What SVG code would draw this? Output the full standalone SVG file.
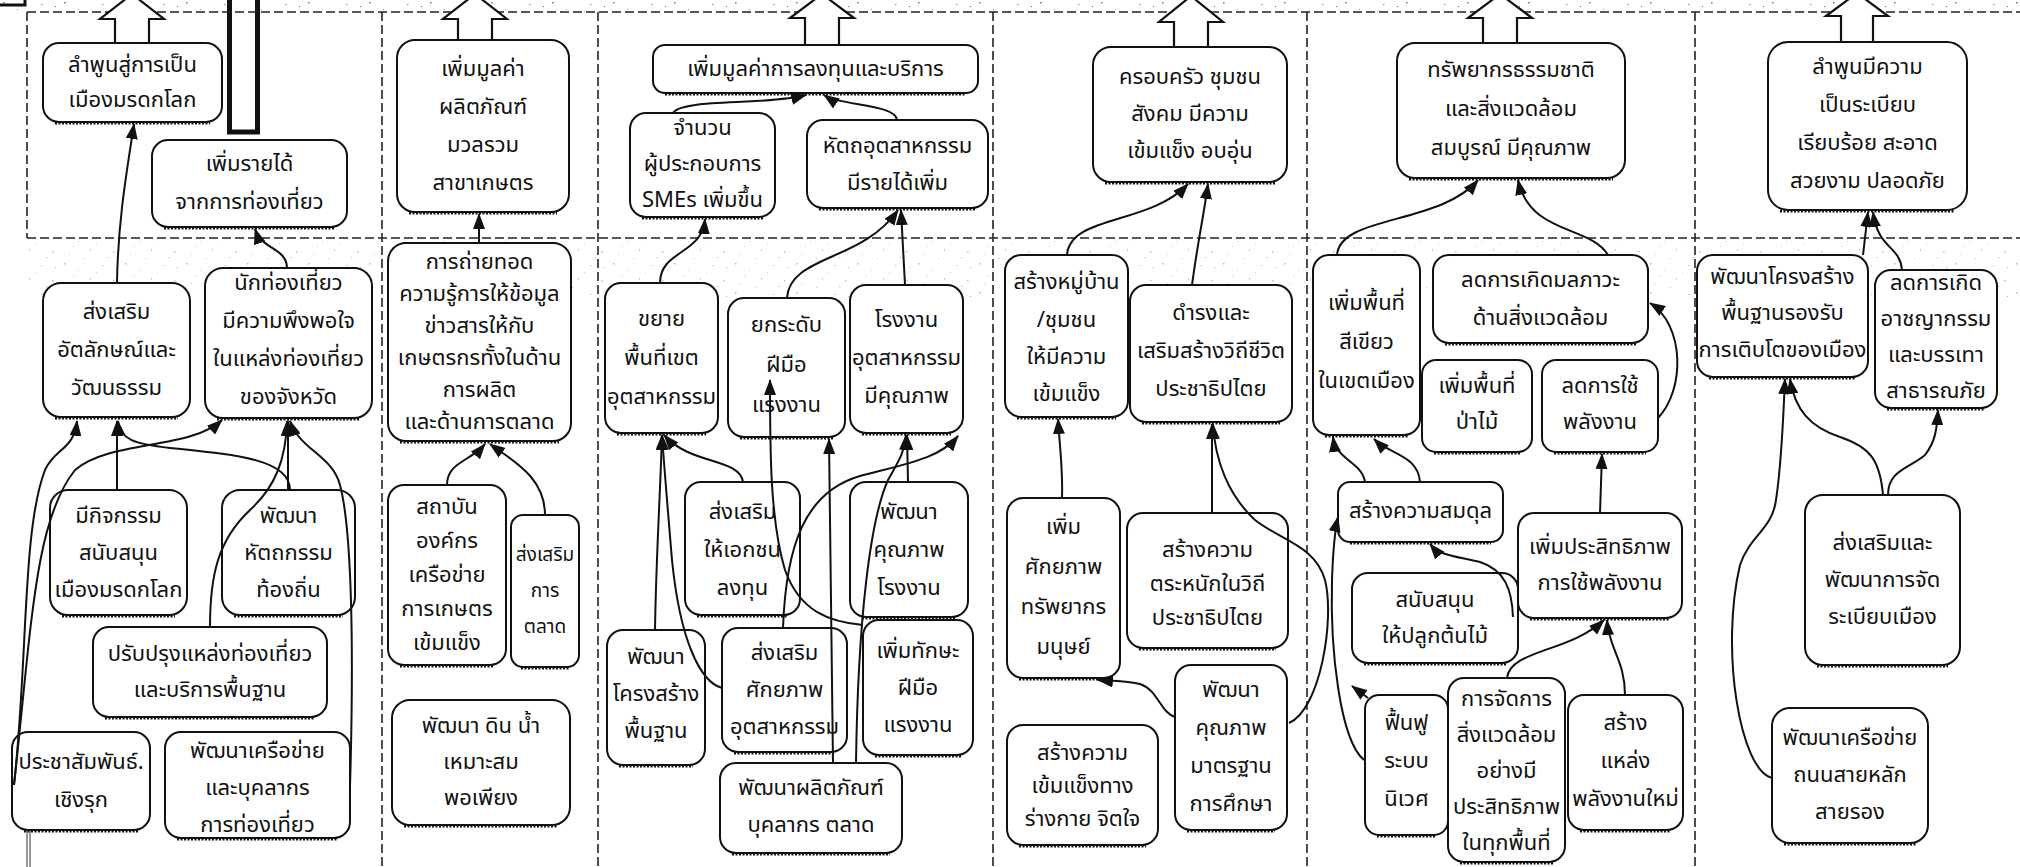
<svg xmlns="http://www.w3.org/2000/svg" width="2020" height="867" viewBox="0 0 2020 867">
<style>
.bg{fill:#fff}
.sep{stroke:#222;stroke-width:1.6;stroke-dasharray:9 4;fill:none}
.box{fill:#fff;stroke:#111;stroke-width:2}
.sh{stroke:#111;stroke-width:3;stroke-dasharray:2 1.5;fill:none}
.t{font-family:'Noto Sans Thai','Liberation Sans','DejaVu Sans',sans-serif;font-size:22px;fill:#111;text-anchor:middle;dominant-baseline:central}
.s{font-size:19px}
.c{fill:none;stroke:#111;stroke-width:2;marker-end:url(#ah)}
.blk{fill:#fff;stroke:#111;stroke-width:2.2}
</style>
<defs>
<marker id="ah" viewBox="0 0 16 12" refX="15" refY="6" markerWidth="16" markerHeight="12" markerUnits="userSpaceOnUse" orient="auto"><path d="M0,0 L16,6 L0,12 z" fill="#111"/></marker>
<pattern id="noise" width="61" height="29" patternUnits="userSpaceOnUse">
<rect x="3" y="2" width="1.5" height="1.5" fill="#777"/><rect x="17" y="9" width="1" height="1" fill="#999"/><rect x="41" y="4" width="1.5" height="1" fill="#888"/><rect x="29" y="17" width="1" height="1.5" fill="#777"/><rect x="8" y="22" width="1" height="1" fill="#999"/><rect x="52" y="19" width="1.5" height="1.5" fill="#888"/><rect x="55" y="6" width="1" height="1" fill="#666"/><rect x="23" y="26" width="1" height="1" fill="#999"/><rect x="35" y="11" width="1" height="1" fill="#aaa"/><rect x="46" y="25" width="1.5" height="1" fill="#888"/><rect x="12" y="14" width="1" height="1" fill="#999"/>
</pattern>
</defs>
<rect class="bg" x="0" y="0" width="2020" height="867"/>
<rect x="0" y="0" width="2020" height="13" fill="url(#noise)"/>
<rect x="27" y="240" width="1993" height="58" fill="url(#noise)" opacity="0.5"/>

<g id="frame">
<path d="M0,5 H25 V-2" fill="none" stroke="#111" stroke-width="3"/>
<rect x="229.5" y="-5" width="28" height="137" fill="#fff" stroke="#111" stroke-width="5"/>
<path class="sep" d="M27,12 H2020 M27,238 H2020 M27,12 V238 M382,12 V867 M598,12 V867 M993,12 V867 M1307,12 V867 M1695,12 V867"/>
<path d="M27,830 V867 M30,830 V867" stroke="#333" stroke-width="1"/>
</g>

<g id="block-arrows">
<polygon class="blk" points="132,-6 164,19 149,19 149,43 115,43 115,19 100,19"/>
<polygon class="blk" points="475,-6 507,19 492,19 492,40 458,40 458,19 443,19"/>
<polygon class="blk" points="822,-6 854,18 839,18 839,45 805,45 805,18 790,18"/>
<polygon class="blk" points="1191,-4 1223,22 1208,22 1208,47 1174,47 1174,22 1159,22"/>
<polygon class="blk" points="1500,-6 1532,18 1517,18 1517,43 1483,43 1483,18 1468,18"/>
<polygon class="blk" points="1857,-7 1888,16 1873,16 1873,42 1841,42 1841,16 1826,16"/>
</g>

<g id="A1"><rect class="box" x="43" y="43" width="179" height="79" rx="16"/><path class="sh" d="M55,123 H210"/><text class="t"><tspan x="132.5" y="65">ลำพูนสู่การเป็น</tspan><tspan x="132.5" y="100">เมืองมรดกโลก</tspan></text></g>
<g id="A2"><rect class="box" x="152" y="140" width="195" height="87" rx="16"/><path class="sh" d="M164,228 H335"/><text class="t"><tspan x="249.5" y="164">เพิ่มรายได้</tspan><tspan x="249.5" y="202">จากการท่องเที่ยว</tspan></text></g>
<g id="A3"><rect class="box" x="43" y="283" width="147" height="134" rx="18"/><path class="sh" d="M55,418 H178"/><text class="t"><tspan x="116.5" y="312">ส่งเสริม</tspan><tspan x="116.5" y="350">อัตลักษณ์และ</tspan><tspan x="116.5" y="388">วัฒนธรรม</tspan></text></g>
<g id="A4"><rect class="box" x="205" y="268" width="167" height="150" rx="18"/><path class="sh" d="M217,419 H360"/><text class="t"><tspan x="288.5" y="283">นักท่องเที่ยว</tspan><tspan x="288.5" y="321">มีความพึงพอใจ</tspan><tspan x="288.5" y="359">ในแหล่งท่องเที่ยว</tspan><tspan x="288.5" y="397">ของจังหวัด</tspan></text></g>
<g id="A5"><rect class="box" x="50" y="490" width="137" height="125" rx="18"/><path class="sh" d="M62,616 H175"/><text class="t"><tspan x="118.5" y="516">มีกิจกรรม</tspan><tspan x="118.5" y="553">สนับสนุน</tspan><tspan x="118.5" y="590">เมืองมรดกโลก</tspan></text></g>
<g id="A6"><rect class="box" x="222" y="490" width="133" height="125" rx="18"/><path class="sh" d="M234,616 H343"/><text class="t"><tspan x="288.5" y="516">พัฒนา</tspan><tspan x="288.5" y="553">หัตถกรรม</tspan><tspan x="288.5" y="590">ท้องถิ่น</tspan></text></g>
<g id="A7"><rect class="box" x="93" y="627" width="234" height="90" rx="16"/><path class="sh" d="M105,718 H315"/><text class="t"><tspan x="210" y="654">ปรับปรุงแหล่งท่องเที่ยว</tspan><tspan x="210" y="690">และบริการพื้นฐาน</tspan></text></g>
<g id="A8"><rect class="box" x="12" y="732" width="138" height="98" rx="16"/><path class="sh" d="M24,831 H138"/><text class="t"><tspan x="81" y="762">ประชาสัมพันธ์.</tspan><tspan x="81" y="800">เชิงรุก</tspan></text></g>
<g id="A9"><rect class="box" x="165" y="732" width="185" height="106" rx="16"/><path class="sh" d="M177,839 H338"/><text class="t"><tspan x="257.5" y="751">พัฒนาเครือข่าย</tspan><tspan x="257.5" y="788">และบุคลากร</tspan><tspan x="257.5" y="825">การท่องเที่ยว</tspan></text></g>

<g id="B1"><rect class="box" x="397" y="40" width="172" height="172" rx="18"/><path class="sh" d="M409,213 H557"/><text class="t"><tspan x="483" y="69">เพิ่มมูลค่า</tspan><tspan x="483" y="107">ผลิตภัณฑ์</tspan><tspan x="483" y="145">มวลรวม</tspan><tspan x="483" y="183">สาขาเกษตร</tspan></text></g>
<g id="B2"><rect class="box" x="388" y="243" width="183" height="198" rx="18"/><path class="sh" d="M400,442 H559"/><text class="t"><tspan x="479.5" y="262">การถ่ายทอด</tspan><tspan x="479.5" y="294">ความรู้การให้ข้อมูล</tspan><tspan x="479.5" y="326">ข่าวสารให้กับ</tspan><tspan x="479.5" y="358">เกษตรกรทั้งในด้าน</tspan><tspan x="479.5" y="390">การผลิต</tspan><tspan x="479.5" y="422">และด้านการตลาด</tspan></text></g>
<g id="B3"><rect class="box" x="388" y="485" width="118" height="180" rx="16"/><path class="sh" d="M400,666 H494"/><text class="t"><tspan x="447" y="507">สถาบัน</tspan><tspan x="447" y="541">องค์กร</tspan><tspan x="447" y="575">เครือข่าย</tspan><tspan x="447" y="609">การเกษตร</tspan><tspan x="447" y="643">เข้มแข็ง</tspan></text></g>
<g id="B4"><rect class="box" x="511" y="515" width="68" height="152" rx="12"/><path class="sh" d="M521,668 H569"/><text class="t s"><tspan x="545" y="555">ส่งเสริม</tspan><tspan x="545" y="591">การ</tspan><tspan x="545" y="627">ตลาด</tspan></text></g>
<g id="B5"><rect class="box" x="392" y="700" width="178" height="125" rx="18"/><path class="sh" d="M404,826 H558"/><text class="t"><tspan x="481" y="726">พัฒนา ดิน น้ำ</tspan><tspan x="481" y="762">เหมาะสม</tspan><tspan x="481" y="798">พอเพียง</tspan></text></g>

<g id="C1"><rect class="box" x="653" y="45" width="325" height="48" rx="12"/><path class="sh" d="M665,94 H966"/><text class="t"><tspan x="815.5" y="69">เพิ่มมูลค่าการลงทุนและบริการ</tspan></text></g>
<g id="C2"><rect class="box" x="630" y="113" width="145" height="104" rx="16"/><path class="sh" d="M642,218 H763"/><text class="t"><tspan x="702.5" y="128">จำนวน</tspan><tspan x="702.5" y="164">ผู้ประกอบการ</tspan><tspan x="702.5" y="200">SMEs เพิ่มขึ้น</tspan></text></g>
<g id="C3"><rect class="box" x="807" y="120" width="181" height="88" rx="16"/><path class="sh" d="M819,209 H976"/><text class="t"><tspan x="897.5" y="146">หัตถอุตสาหกรรม</tspan><tspan x="897.5" y="183">มีรายได้เพิ่ม</tspan></text></g>
<g id="C4"><rect class="box" x="605" y="283" width="113" height="150" rx="16"/><path class="sh" d="M617,434 H706"/><text class="t"><tspan x="661.5" y="319">ขยาย</tspan><tspan x="661.5" y="358">พื้นที่เขต</tspan><tspan x="661.5" y="397">อุตสาหกรรม</tspan></text></g>
<g id="C5"><rect class="box" x="728" y="298" width="117" height="139" rx="16"/><path class="sh" d="M740,438 H833"/><text class="t"><tspan x="786.5" y="325">ยกระดับ</tspan><tspan x="786.5" y="365">ฝีมือ</tspan><tspan x="786.5" y="405">แรงงาน</tspan></text></g>
<g id="C6"><rect class="box" x="850" y="285" width="113" height="148" rx="16"/><path class="sh" d="M862,434 H951"/><text class="t"><tspan x="906.5" y="320">โรงงาน</tspan><tspan x="906.5" y="358">อุตสาหกรรม</tspan><tspan x="906.5" y="396">มีคุณภาพ</tspan></text></g>
<g id="C7"><rect class="box" x="685" y="482" width="115" height="133" rx="16"/><path class="sh" d="M697,616 H788"/><text class="t"><tspan x="742.5" y="512">ส่งเสริม</tspan><tspan x="742.5" y="550">ให้เอกชน</tspan><tspan x="742.5" y="588">ลงทุน</tspan></text></g>
<g id="C8"><rect class="box" x="850" y="482" width="118" height="135" rx="16"/><path class="sh" d="M862,618 H956"/><text class="t"><tspan x="909" y="512">พัฒนา</tspan><tspan x="909" y="550">คุณภาพ</tspan><tspan x="909" y="588">โรงงาน</tspan></text></g>
<g id="C9"><rect class="box" x="607" y="630" width="98" height="135" rx="16"/><path class="sh" d="M619,766 H693"/><text class="t"><tspan x="656" y="657">พัฒนา</tspan><tspan x="656" y="694">โครงสร้าง</tspan><tspan x="656" y="731">พื้นฐาน</tspan></text></g>
<g id="C10"><rect class="box" x="722" y="628" width="125" height="124" rx="16"/><path class="sh" d="M734,753 H835"/><text class="t"><tspan x="784.5" y="653">ส่งเสริม</tspan><tspan x="784.5" y="690">ศักยภาพ</tspan><tspan x="784.5" y="727">อุตสาหกรรม</tspan></text></g>
<g id="C11"><rect class="box" x="863" y="620" width="110" height="135" rx="16"/><path class="sh" d="M875,756 H961"/><text class="t"><tspan x="918" y="651">เพิ่มทักษะ</tspan><tspan x="918" y="688">ฝีมือ</tspan><tspan x="918" y="725">แรงงาน</tspan></text></g>
<g id="C12"><rect class="box" x="720" y="763" width="182" height="90" rx="16"/><path class="sh" d="M732,854 H890"/><text class="t"><tspan x="811" y="788">พัฒนาผลิตภัณฑ์</tspan><tspan x="811" y="825">บุคลากร ตลาด</tspan></text></g>

<g id="D1"><rect class="box" x="1093" y="47" width="194" height="135" rx="18"/><path class="sh" d="M1105,183 H1275"/><text class="t"><tspan x="1190" y="77">ครอบครัว ชุมชน</tspan><tspan x="1190" y="114">สังคม มีความ</tspan><tspan x="1190" y="151">เข้มแข็ง อบอุ่น</tspan></text></g>
<g id="D2"><rect class="box" x="1005" y="255" width="123" height="162" rx="16"/><path class="sh" d="M1017,418 H1116"/><text class="t"><tspan x="1066.5" y="282">สร้างหมู่บ้าน</tspan><tspan x="1066.5" y="320">/ชุมชน</tspan><tspan x="1066.5" y="357">ให้มีความ</tspan><tspan x="1066.5" y="394">เข้มแข็ง</tspan></text></g>
<g id="D3"><rect class="box" x="1130" y="285" width="162" height="137" rx="16"/><path class="sh" d="M1142,423 H1280"/><text class="t"><tspan x="1211" y="313">ดำรงและ</tspan><tspan x="1211" y="351">เสริมสร้างวิถีชีวิต</tspan><tspan x="1211" y="389">ประชาธิปไตย</tspan></text></g>
<g id="D4"><rect class="box" x="1007" y="498" width="113" height="180" rx="16"/><path class="sh" d="M1019,679 H1108"/><text class="t"><tspan x="1063.5" y="527">เพิ่ม</tspan><tspan x="1063.5" y="567">ศักยภาพ</tspan><tspan x="1063.5" y="607">ทรัพยากร</tspan><tspan x="1063.5" y="647">มนุษย์</tspan></text></g>
<g id="D5"><rect class="box" x="1127" y="513" width="161" height="135" rx="16"/><path class="sh" d="M1139,649 H1276"/><text class="t"><tspan x="1207.5" y="550">สร้างความ</tspan><tspan x="1207.5" y="584">ตระหนักในวิถี</tspan><tspan x="1207.5" y="618">ประชาธิปไตย</tspan></text></g>
<g id="D6"><rect class="box" x="1007" y="725" width="151" height="120" rx="16"/><path class="sh" d="M1019,846 H1146"/><text class="t"><tspan x="1082.5" y="753">สร้างความ</tspan><tspan x="1082.5" y="786">เข้มแข็งทาง</tspan><tspan x="1082.5" y="819">ร่างกาย จิตใจ</tspan></text></g>
<g id="D7"><rect class="box" x="1175" y="665" width="112" height="165" rx="16"/><path class="sh" d="M1187,831 H1275"/><text class="t"><tspan x="1231" y="690">พัฒนา</tspan><tspan x="1231" y="728">คุณภาพ</tspan><tspan x="1231" y="766">มาตรฐาน</tspan><tspan x="1231" y="804">การศึกษา</tspan></text></g>

<g id="E1"><rect class="box" x="1397" y="43" width="228" height="135" rx="18"/><path class="sh" d="M1409,179 H1613"/><text class="t"><tspan x="1511" y="70">ทรัพยากรธรรมชาติ</tspan><tspan x="1511" y="109">และสิ่งแวดล้อม</tspan><tspan x="1511" y="148">สมบูรณ์ มีคุณภาพ</tspan></text></g>
<g id="E2"><rect class="box" x="1313" y="255" width="107" height="180" rx="16"/><path class="sh" d="M1325,436 H1408"/><text class="t"><tspan x="1366.5" y="303">เพิ่มพื้นที่</tspan><tspan x="1366.5" y="342">สีเขียว</tspan><tspan x="1366.5" y="381">ในเขตเมือง</tspan></text></g>
<g id="E3"><rect class="box" x="1433" y="255" width="215" height="88" rx="16"/><path class="sh" d="M1445,344 H1636"/><text class="t"><tspan x="1540.5" y="280">ลดการเกิดมลภาวะ</tspan><tspan x="1540.5" y="318">ด้านสิ่งแวดล้อม</tspan></text></g>
<g id="E4"><rect class="box" x="1422" y="360" width="110" height="92" rx="14"/><path class="sh" d="M1434,453 H1520"/><text class="t"><tspan x="1477" y="386">เพิ่มพื้นที่</tspan><tspan x="1477" y="422">ป่าไม้</tspan></text></g>
<g id="E5"><rect class="box" x="1542" y="360" width="116" height="92" rx="14"/><path class="sh" d="M1554,453 H1646"/><text class="t"><tspan x="1600" y="386">ลดการใช้</tspan><tspan x="1600" y="422">พลังงาน</tspan></text></g>
<g id="E6"><rect class="box" x="1338" y="482" width="165" height="60" rx="12"/><path class="sh" d="M1350,543 H1491"/><text class="t"><tspan x="1420.5" y="511">สร้างความสมดุล</tspan></text></g>
<g id="E7"><rect class="box" x="1518" y="513" width="164" height="105" rx="16"/><path class="sh" d="M1530,619 H1670"/><text class="t"><tspan x="1600" y="547">เพิ่มประสิทธิภาพ</tspan><tspan x="1600" y="583">การใช้พลังงาน</tspan></text></g>
<g id="E8"><rect class="box" x="1352" y="573" width="166" height="90" rx="16"/><path class="sh" d="M1364,664 H1506"/><text class="t"><tspan x="1435" y="600">สนับสนุน</tspan><tspan x="1435" y="636">ให้ปลูกต้นไม้</tspan></text></g>
<g id="E9"><rect class="box" x="1365" y="695" width="83" height="140" rx="14"/><path class="sh" d="M1377,836 H1436"/><text class="t"><tspan x="1406.5" y="723">ฟื้นฟู</tspan><tspan x="1406.5" y="761">ระบบ</tspan><tspan x="1406.5" y="799">นิเวศ</tspan></text></g>
<g id="E10"><rect class="box" x="1448" y="678" width="117" height="184" rx="16"/><path class="sh" d="M1460,863 H1553"/><text class="t"><tspan x="1506.5" y="699">การจัดการ</tspan><tspan x="1506.5" y="735">สิ่งแวดล้อม</tspan><tspan x="1506.5" y="771">อย่างมี</tspan><tspan x="1506.5" y="807">ประสิทธิภาพ</tspan><tspan x="1506.5" y="843">ในทุกพื้นที่</tspan></text></g>
<g id="E11"><rect class="box" x="1568" y="695" width="115" height="135" rx="16"/><path class="sh" d="M1580,831 H1671"/><text class="t"><tspan x="1625.5" y="723">สร้าง</tspan><tspan x="1625.5" y="761">แหล่ง</tspan><tspan x="1625.5" y="799">พลังงานใหม่</tspan></text></g>

<g id="F1"><rect class="box" x="1768" y="42" width="199" height="168" rx="20"/><path class="sh" d="M1780,211 H1955"/><text class="t"><tspan x="1867.5" y="67">ลำพูนมีความ</tspan><tspan x="1867.5" y="105">เป็นระเบียบ</tspan><tspan x="1867.5" y="143">เรียบร้อย สะอาด</tspan><tspan x="1867.5" y="181">สวยงาม ปลอดภัย</tspan></text></g>
<g id="F2"><rect class="box" x="1697" y="255" width="171" height="122" rx="16"/><path class="sh" d="M1709,378 H1856"/><text class="t"><tspan x="1782.5" y="277">พัฒนาโครงสร้าง</tspan><tspan x="1782.5" y="313">พื้นฐานรองรับ</tspan><tspan x="1782.5" y="350">การเติบโตของเมือง</tspan></text></g>
<g id="F3"><rect class="box" x="1875" y="270" width="122" height="138" rx="16"/><path class="sh" d="M1887,409 H1985"/><text class="t"><tspan x="1936" y="283">ลดการเกิด</tspan><tspan x="1936" y="319">อาชญากรรม</tspan><tspan x="1936" y="355">และบรรเทา</tspan><tspan x="1936" y="391">สาธารณภัย</tspan></text></g>
<g id="F4"><rect class="box" x="1805" y="495" width="155" height="170" rx="18"/><path class="sh" d="M1817,666 H1948"/><text class="t"><tspan x="1882.5" y="543">ส่งเสริมและ</tspan><tspan x="1882.5" y="580">พัฒนาการจัด</tspan><tspan x="1882.5" y="617">ระเบียบเมือง</tspan></text></g>
<g id="F5"><rect class="box" x="1772" y="708" width="156" height="135" rx="18"/><path class="sh" d="M1784,844 H1916"/><text class="t"><tspan x="1850" y="738">พัฒนาเครือข่าย</tspan><tspan x="1850" y="775">ถนนสายหลัก</tspan><tspan x="1850" y="812">สายรอง</tspan></text></g>

<g id="connectors">
<path class="c" d="M117,283 C118,220 127,170 134,124"/>
<path class="c" d="M287,268 C287,248 262,250 255,229"/>
<path class="c" d="M117,490 L117,421"/>
<path class="c" d="M290,490 C290,460 240,455 170,448 C135,444 120,440 118,421"/>
<path class="c" d="M14,785 C28,660 22,530 45,470 C55,448 74,450 77,421"/>
<path class="c" d="M14,785 C32,620 35,520 75,470 C110,440 190,450 222,420"/>
<path class="c" d="M288,490 L288,421"/>
<path class="c" d="M210,627 C210,575 218,540 250,510 C275,487 286,460 287,421"/>
<path class="c" d="M350,787 C354,650 352,530 340,485 C332,455 300,450 290,421"/>

<path class="c" d="M479,243 L479,214"/>
<path class="c" d="M447,485 C447,462 470,462 485,444"/>
<path class="c" d="M545,515 C545,478 515,462 490,444"/>

<path class="c" d="M673,113 C682,98 765,106 806,95"/>
<path class="c" d="M897,120 C896,104 840,106 824,95"/>
<path class="c" d="M660,283 C660,250 702,255 705,219"/>
<path class="c" d="M787,298 C790,255 862,262 898,210"/>
<path class="c" d="M905,285 L901,210"/>
<path class="c" d="M863,625 C830,622 800,612 785,570 C770,520 770,450 770,380"/>
<path class="c" d="M655,630 C656,560 660,500 662,435"/>
<path class="c" d="M743,482 C740,458 690,465 664,435"/>
<path class="c" d="M722,688 C700,682 680,640 672,560 C667,500 664,465 662,435"/>
<path class="c" d="M833,763 L829,439"/>
<path class="c" d="M908,482 L907,435"/>
<path class="c" d="M856,763 C858,620 870,520 888,480 C898,462 905,452 906,435"/>
<path class="c" d="M783,628 C786,545 805,492 860,476 C910,463 940,458 958,436"/>

<path class="c" d="M1067,255 C1070,215 1150,225 1188,184"/>
<path class="c" d="M1192,285 C1198,240 1203,220 1208,184"/>
<path class="c" d="M1062,498 C1063,470 1060,450 1058,419"/>
<path class="c" d="M1212,513 L1212,424"/>
<path class="c" d="M1289,723 C1320,710 1335,620 1325,580 C1315,545 1280,540 1255,520 C1228,495 1215,460 1213,424"/>
<path class="c" d="M1175,717 C1160,712 1158,690 1140,684 C1122,680 1108,681 1098,680"/>

<path class="c" d="M1337,255 C1340,215 1440,225 1478,180"/>
<path class="c" d="M1608,255 C1590,225 1530,235 1518,180"/>
<path class="c" d="M1658,418 C1685,390 1685,325 1650,303"/>
<path class="c" d="M1365,482 C1362,462 1336,460 1333,437"/>
<path class="c" d="M1420,482 C1418,455 1390,455 1374,439"/>
<path class="c" d="M1513,617 C1512,590 1505,570 1480,562 C1455,556 1440,556 1430,544"/>
<path class="c" d="M1600,513 L1602,454"/>
<path class="c" d="M1507,678 C1510,650 1570,652 1604,620"/>
<path class="c" d="M1625,695 C1625,660 1609,650 1607,620"/>
<path class="c" d="M1364,760 C1340,740 1330,650 1332,580 C1333,550 1335,530 1338,517"/>
<path class="c" d="M1368,698 L1352,686"/>

<path class="c" d="M1863,255 L1868,212"/>
<path class="c" d="M1902,270 C1900,245 1878,250 1873,212"/>
<path class="c" d="M1883,495 C1880,460 1870,447 1840,437 C1810,427 1795,410 1790,379"/>
<path class="c" d="M1888,495 C1888,470 1910,468 1925,455 C1935,442 1937,430 1938,410"/>
<path class="c" d="M1772,778 C1740,770 1720,650 1740,565 C1750,535 1772,530 1776,500 C1782,460 1783,420 1785,379"/>
</g>
</svg>
